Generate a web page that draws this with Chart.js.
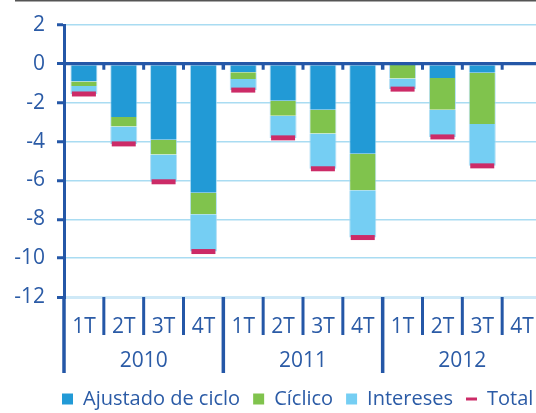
<!DOCTYPE html>
<html>
<head>
<meta charset="utf-8">
<title>Saldo</title>
<script src="https://cdn.jsdelivr.net/npm/chart.js@4.4.0/dist/chart.umd.min.js"></script>
<style>
    html, body { margin: 0; padding: 0; background: #fff; overflow: hidden; }
    #wrap { position: relative; width: 542px; height: 413px; }
</style>
</head>
<body>
<div id="wrap"><canvas id="saldo"></canvas></div>
<script>
(function () {

    'use strict';
    //-------------
    var quarters = ['1T', '2T', '3T', '4T', '1T', '2T', '3T', '4T', '1T', '2T', '3T', '4T'];
    var years = ['2010', '2011', '2012'];

    var ajustado = [-0.91, -2.73, -3.90, -6.63, -0.43, -1.90, -2.36, -4.63, -0.05, -0.73, -0.46, null];
    var ciclico = [-0.23, -0.50, -0.77, -1.11, -0.35, -0.77, -1.23, -1.87, -0.70, -1.63, -2.63, null];
    var intereses = [-0.41, -0.89, -1.40, -1.92, -0.57, -1.14, -1.81, -2.44, -0.55, -1.40, -2.16, null];
    var total = [-1.55, -4.12, -6.07, -9.66, -1.35, -3.81, -5.40, -8.94, -1.30, -3.76, -5.25, null];

    var axisBlue = '#2457a7';
    var textBlue = '#2b5ba6';
    var gridBlue = '#a9dcf2';
    var totalPink = '#cc2b67';
    var font = '"Open Sans", "Noto Sans", sans-serif';

    // zero line, category separators and the thin rule at the top
    var decor = {
        id: 'decor',
        afterDatasetsDraw: function (chart) {
            var ctx = chart.ctx;
            var x = chart.scales.x;
            var y = chart.scales.y;
            var area = chart.chartArea;
            var y0 = y.getPixelForValue(0);
            var step = x.getPixelForValue(1) - x.getPixelForValue(0);
            var i, bx;

            ctx.save();
            ctx.strokeStyle = axisBlue;
            ctx.lineWidth = 3;
            ctx.beginPath();
            ctx.moveTo(area.left, y0);
            ctx.lineTo(area.right, y0);
            ctx.stroke();

            for (i = 0; i <= quarters.length; i++) {
                bx = x.getPixelForValue(0) - step / 2 + i * step;
                ctx.beginPath();
                if (i > 0) {
                    ctx.moveTo(bx, y0);
                    ctx.lineTo(bx, y0 + 6);
                }
                ctx.moveTo(bx, area.bottom);
                ctx.lineTo(bx, area.bottom + (i % 4 === 0 ? 76 : 38));
                ctx.lineWidth = i % 4 === 0 ? 3.5 : 3;
                ctx.stroke();
            }

            ctx.fillStyle = '#555';
            ctx.fillRect(15, 0, chart.width, 1.5);
            ctx.restore();
        },
        afterLayout: function (chart) {
            var lg = chart.legend;
            lg.left = 49;
            lg.right = lg.left + lg.width;
        }
    };

    // keep the scales from reserving room for half-labels at the ends
    var noSidePadding = function (h) {
        return function (s) {
            s.height = h;
            s.paddingLeft = 0;
            s.paddingRight = 0;
        };
    };

    var legendLabels = function (chart) {
        var items = Chart.defaults.plugins.legend.labels.generateLabels(chart);
        items.forEach(function (it) {
            var ds = chart.data.datasets[it.datasetIndex];
            if (ds.type === 'line') {
                it.pointStyle = 'line';
                it.lineWidth = 3;
                it.strokeStyle = totalPink;
            } else {
                it.pointStyle = 'rect';
                it.lineWidth = 0;
            }
        });
        return items.sort(function (a, b) { return a.datasetIndex - b.datasetIndex; });
    };

    var barBorder = { left: 1, right: 1, top: 0, bottom: 0 };
    var barEdge = 'rgba(160,215,242,0.8)';

    var saldo = {
        type: 'bar',
        data: {
            labels: quarters,
            datasets: [{
                label: 'Ajustado de ciclo',
                data: ajustado,
                backgroundColor: '#229ad6',
                borderColor: barEdge,
                borderWidth: barBorder,
                order: 1
            }, {
                label: 'Cíclico',
                data: ciclico,
                backgroundColor: '#80c34d',
                borderColor: barEdge,
                borderWidth: barBorder,
                order: 1
            }, {
                label: 'Intereses',
                data: intereses,
                backgroundColor: '#75cef3',
                borderColor: barEdge,
                borderWidth: barBorder,
                order: 1
            }, {
                type: 'line',
                label: 'Total',
                data: total,
                showLine: false,
                pointStyle: 'line',
                pointRadius: 12,
                pointHoverRadius: 12,
                borderWidth: 5,
                borderColor: totalPink,
                backgroundColor: totalPink,
                order: 0
            }]
        },
        options: {
            responsive: true,
            maintainAspectRatio: false,
            animation: false,
            categoryPercentage: 1,
            barPercentage: 0.68,
            layout: { autoPadding: false, padding: { top: 25, left: 0, right: 0, bottom: -6 } },
            scales: {
                x: {
                    stacked: true,
                    offset: true,
                    weight: 0,
                    grid: { display: false },
                    border: { display: false },
                    ticks: { color: textBlue, font: { family: font, size: 21 }, padding: 9, maxRotation: 0, autoSkip: false },
                    afterFit: noSidePadding(40)
                },
                x2: {
                    type: 'category',
                    labels: years,
                    position: 'bottom',
                    offset: true,
                    weight: 1,
                    grid: { display: false },
                    border: { display: false },
                    ticks: { color: textBlue, font: { family: font, size: 21 }, padding: 3, maxRotation: 0 },
                    afterFit: noSidePadding(39)
                },
                y: {
                    stacked: true,
                    min: -12,
                    max: 2,
                    ticks: { stepSize: 2, color: textBlue, font: { family: font, size: 21 }, padding: 12 },
                    grid: {
                        color: function (c) {
                            if (c.tick && c.tick.value === 0) { return axisBlue; }
                            if (c.tick && c.tick.value === -12) { return '#cfe9f7'; }
                            return gridBlue;
                        },
                        lineWidth: function (c) {
                            return c.tick && (c.tick.value === 0 || c.tick.value === -12) ? 3 : 1.5;
                        },
                        tickColor: axisBlue,
                        tickWidth: 3,
                        tickLength: 7
                    },
                    border: { color: axisBlue, width: 3 },
                    afterFit: function (s) { s.width = 64; }
                }
            },
            plugins: {
                tooltip: { enabled: false },
                legend: {
                    position: 'bottom',
                    align: 'start',
                    labels: {
                        usePointStyle: true,
                        boxHeight: 11,
                        pointStyleWidth: 11,
                        padding: 13,
                        color: textBlue,
                        font: { family: font, size: 20 },
                        generateLabels: legendLabels
                    }
                }
            }
        },
        plugins: [decor]
    };

    var ctx = document.getElementById('saldo').getContext('2d');
    window.saldoChart = new Chart(ctx, saldo);
})();
</script>
</body>
</html>
